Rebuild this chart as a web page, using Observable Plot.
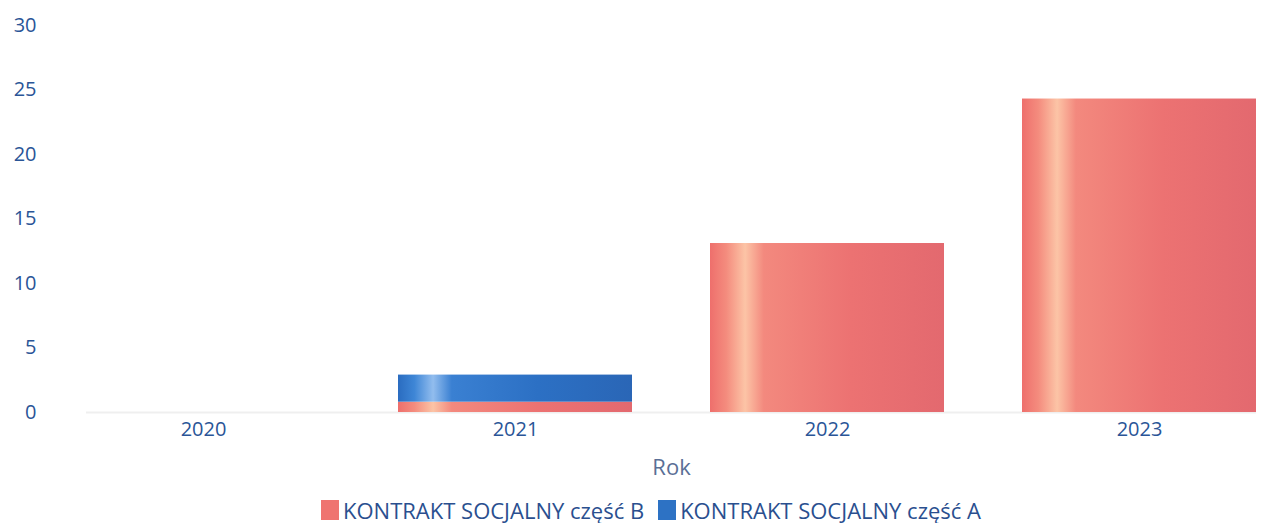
<!DOCTYPE html>
<html><head><meta charset="utf-8">
<script src="https://cdn.jsdelivr.net/npm/d3@7"></script>
<script src="https://cdn.jsdelivr.net/npm/@observablehq/plot@0.6"></script>
<style>
body{margin:0;background:#fff;font-family:"Open Sans",sans-serif;overflow:hidden}
#legend{display:flex;justify-content:center;align-items:center;gap:14px;font-size:22px;line-height:26px;color:#2a4f8f;height:26px;margin-left:14px}
#legend span.sw{display:inline-block;width:18px;height:20px;margin-right:4px}
#legend .it{display:flex;align-items:center}
#chart svg{display:block}
</style></head>
<body><div id="chart"></div><div id="legend"></div>
<script>
const years = ["2020","2021","2022","2023"];
const seriesNames = ["KONTRAKT SOCJALNY część B","KONTRAKT SOCJALNY część A"];
const partB = [0, 0.8, 13.1, 24.3];
const partA = [0, 2.1, 0, 0];
const yTicks = [0,5,10,15,20,25,30];
const solidColors = ["#ef7470","#2d72c4"];

const data = [];
years.forEach((y,i)=>{
  data.push({year:y, series:seriesNames[0], value:partB[i]});
  data.push({year:y, series:seriesNames[1], value:partA[i]});
});

const plot = Plot.plot({
  width:1288, height:497,
  marginLeft:86, marginRight:32, marginTop:25, marginBottom:85,
  style:{fontFamily:"Open Sans, sans-serif", fontSize:"20px", color:"#2a5597", background:"#fff"},
  x:{domain:years, paddingInner:0.25, paddingOuter:0, label:"Rok", labelAnchor:"center", labelOffset:62, tickSize:0, tickPadding:9},
  y:{domain:[0,30], ticks:yTicks, tickSize:0, tickPadding:50, label:null},
  color:{domain:seriesNames, range:["url(#gB)","url(#gA)"]},
  marks:[
    Plot.ruleY([0],{stroke:"#efefef", strokeWidth:2}),
    Plot.barY(data, Plot.stackY({x:"year", y:"value", fill:"series", order:seriesNames}))
  ]
});
const svg = d3.select(plot);
svg.selectAll("[aria-label='x-axis label'] text, [aria-label='x-axis label']").style("font-size","22px").attr("fill","#5a6f96");
const defs = svg.insert("defs",":first-child");
const gB = defs.append("linearGradient").attr("id","gB").attr("x1","0").attr("x2","1").attr("y1","0").attr("y2","0");
[[0,"#ee6f6c"],[0.07,"#f48c7e"],[0.15,"#fcc4a6"],[0.23,"#f3897e"],[0.6,"#ec7272"],[1,"#e3696f"]].forEach(([o,c])=>gB.append("stop").attr("offset",o).attr("stop-color",c));
const gA = defs.append("linearGradient").attr("id","gA").attr("x1","0").attr("x2","1").attr("y1","0").attr("y2","0");
[[0,"#2a6cc0"],[0.07,"#3e86d6"],[0.15,"#92bdee"],[0.23,"#3a80d2"],[0.6,"#2c70c4"],[1,"#2a66b6"]].forEach(([o,c])=>gA.append("stop").attr("offset",o).attr("stop-color",c));
document.getElementById("chart").appendChild(plot);

const lg = document.getElementById("legend");
seriesNames.forEach((n,i)=>{
  const it=document.createElement("div"); it.className="it";
  const sw=document.createElement("span"); sw.className="sw"; sw.style.background=solidColors[i];
  it.appendChild(sw); it.appendChild(document.createTextNode(n)); lg.appendChild(it);
});
</script></body></html>
